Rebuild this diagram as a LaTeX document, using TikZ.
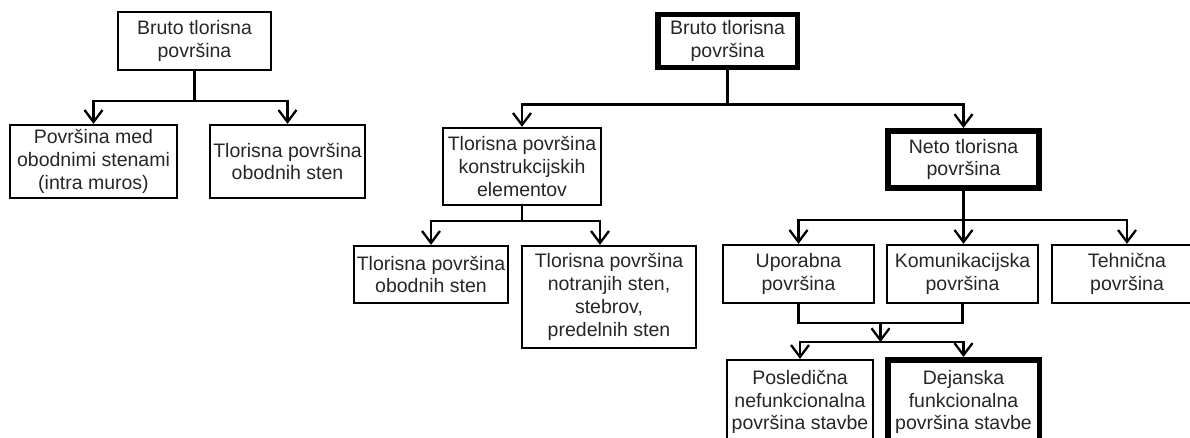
\documentclass[tikz,border=0pt]{standalone}
\usepackage{fontspec}
\setmainfont{Liberation Sans}
\usepackage{tikz}
\usetikzlibrary{arrows.meta, positioning, calc}

\begin{document}
\begin{tikzpicture}[
  x=0.02cm, y=-0.02cm, line width=1.3pt,
  tbox/.style={draw, line width=1.3pt, align=center, inner sep=0pt, text=black!85,
    font=\fontsize{11.1}{13}\selectfont},
  heavy/.style={line width=3.4pt},
  arr/.style={-{Straight Barb[length=0.24cm,width=0.36cm]}},
]
\useasboundingbox (0,0) rectangle (1190,437);
\clip (0,0) rectangle (1190,437);

% left tree
\node[tbox, minimum width=3.06cm, minimum height=1.16cm] (lbruto) at (194.5,41) {Bruto tlorisna\\površina};
\node[tbox, minimum width=3.34cm, minimum height=1.46cm] (lmed) at (93.5,161.5) {Površina med\\obodnimi stenami\\(intra muros)};
\node[tbox, minimum width=3.1cm, minimum height=1.46cm] (lobod) at (287.5,161.5) {Tlorisna površina\\obodnih sten};

\draw[arr] (lbruto.south) -- ++(0,30) -| (lmed.north);
\draw[arr] (lbruto.south) -- ++(0,30) -| (lobod.north);

% right tree
\node[tbox, heavy, minimum width=2.8cm, minimum height=1.06cm] (bruto) at (727.5,41) {Bruto tlorisna\\površina};
\node[tbox, minimum width=3.16cm, minimum height=1.54cm] (konstr) at (522,166.5) {Tlorisna površina\\konstrukcijskih\\elementov};
\node[tbox, heavy, minimum width=3.02cm, minimum height=1.14cm] (neto) at (963.5,159.5) {Neto tlorisna\\površina};

\draw[arr] (bruto.south) -- ++(0,34) -| (konstr.north);
\draw[arr] (bruto.south) -- ++(0,34) -| (neto.north);

\node[tbox, minimum width=3.08cm, minimum height=1.14cm] (kobod) at (431,274.5) {Tlorisna površina\\obodnih sten};
\node[tbox, minimum width=3.48cm, minimum height=2.04cm] (knotr) at (609,297) {Tlorisna površina\\notranjih sten,\\stebrov,\\predelnih sten};

\draw[arr] (konstr.south) -- ++(0,15) -| (kobod.north);
\draw[arr] (konstr.south) -- ++(0,15) -| ($(knotr.north)+(-9,0)$);

\node[tbox, minimum width=3.02cm, minimum height=1.16cm] (upor) at (798.5,274) {Uporabna\\površina};
\node[tbox, minimum width=3.02cm, minimum height=1.16cm] (komu) at (962.5,274) {Komunikacijska\\površina};
\node[tbox, minimum width=3.0cm, minimum height=1.16cm] (tehn) at (1127,274) {Tehnična\\površina};

\draw[arr] (neto.south) -- ++(0,29) -| (upor.north);
\draw[arr] (neto.south) -- (neto.south |- komu.north);
\draw[arr] (neto.south) -- ++(0,29) -| (tehn.north);

\node[tbox, minimum width=2.92cm, minimum height=1.68cm] (posl) at (800,402) {Posledična\\nefunkcionalna\\površina stavbe};
\node[tbox, heavy, minimum width=3.04cm, minimum height=1.68cm] (dej) at (963.5,402) {Dejanska\\funkcionalna\\površina stavbe};

\draw (upor.south) -- ++(0,19) -| (komu.south);
\draw[arr] ($(upor.south)!.5!(komu.south)+(0,19)$) -- ++(0,19) coordinate (split);
\draw[arr] (split) -| (posl.north);
\draw[arr] (split) -| (dej.north);
\end{tikzpicture}
\end{document}
